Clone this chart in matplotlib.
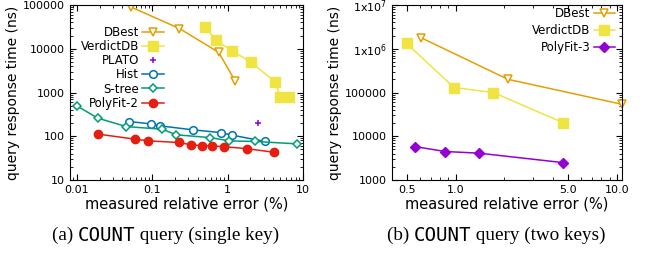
import numpy as np
import matplotlib.pyplot as plt
from matplotlib.ticker import FixedLocator, FixedFormatter, LogLocator, NullFormatter

# (a) single key
dbest_x = [0.053, 0.23, 0.76, 1.26]
dbest_y = [89000, 29000, 8300, 1840]
verdict_x = [0.50, 0.70, 1.14, 2.06, 4.28, 4.99, 6.56]
verdict_y = [32000, 15600, 9060, 4900, 1740, 805, 805]
plato_x = [2.5]
plato_y = [205]
hist_x = [0.049, 0.096, 0.127, 0.347, 0.826, 1.14, 3.16]
hist_y = [217, 192, 173, 140, 121, 106, 76]
stree_x = [0.01, 0.019, 0.0455, 0.135, 0.209, 0.59, 1.06, 2.28, 8.45]
stree_y = [494, 259, 166, 145, 108, 93, 78.5, 76, 67]
pf2_x = [0.019, 0.0586, 0.088, 0.224, 0.327, 0.457, 0.62, 0.885, 1.8, 4.15]
pf2_y = [112, 86, 78.5, 72, 64, 61, 60, 58, 52, 43]

# (b) two keys
dbest2_x = [0.61, 2.11, 10.7]
dbest2_y = [1.79e6, 2.0e5, 54000]
verdict2_x = [0.496, 0.976, 1.71, 4.62]
verdict2_y = [1.33e6, 1.3e5, 1.0e5, 2.06e4]
pf3_x = [0.56, 0.86, 1.39, 4.62]
pf3_y = [5800, 4480, 4110, 2500]

c_dbest = '#e69f00'
c_verdict = '#f0e442'
c_purple = '#9400d3'
c_hist = '#0072b2'
c_stree = '#009e73'
c_red = '#e51e10'

plt.rcParams['font.family'] = 'DejaVu Sans'
plt.rcParams['font.size'] = 8

fig = plt.figure(figsize=(6.57, 2.60), dpi=100)
ax1 = fig.add_axes([0.1065, 0.3077, 0.3546, 0.673])
ax2 = fig.add_axes([0.5967, 0.3077, 0.350, 0.673])

lw = 1.1
ax1.plot(dbest_x, dbest_y, '-v', color=c_dbest, mfc='white', mew=1.1, ms=6, lw=lw, label='DBest')
ax1.plot(verdict_x, verdict_y, '-s', color=c_verdict, ms=6.5, lw=lw, label='VerdictDB')
ax1.plot(plato_x, plato_y, '+', color=c_purple, ms=5, mew=1.1, lw=0, label='PLATO')
ax1.plot(hist_x, hist_y, '-o', color=c_hist, mfc='white', mew=1.1, ms=5.5, lw=lw, label='Hist')
ax1.plot(stree_x, stree_y, '-D', color=c_stree, mfc='white', mew=1.1, ms=4, lw=lw, label='S-tree', clip_on=False)
ax1.plot(pf2_x, pf2_y, '-o', color=c_red, ms=6, lw=lw, label='PolyFit-2')

ax2.plot(dbest2_x, dbest2_y, '-v', color=c_dbest, mfc='white', mew=1.1, ms=6, lw=lw, label='DBest', clip_on=False)
ax2.plot(verdict2_x, verdict2_y, '-s', color=c_verdict, ms=6.5, lw=lw, label='VerdictDB')
ax2.plot(pf3_x, pf3_y, '-D', color=c_purple, ms=5, lw=lw, label='PolyFit-3')

for ax in (ax1, ax2):
    ax.set_xscale('log')
    ax.set_yscale('log')
    ax.tick_params(which='both', direction='in', top=True, right=True, labelsize=8)
    ax.tick_params(which='major', length=4)
    ax.tick_params(which='minor', length=2)
    ax.set_xlabel('measured relative error (%)', fontsize=10.5, labelpad=1)
    ax.set_ylabel('query response time (ns)', fontsize=10, labelpad=2)

ax1.set_xlim(0.0081, 10)
ax1.set_ylim(10, 100000)
ax1.xaxis.set_major_locator(FixedLocator([0.01, 0.1, 1, 10]))
ax1.xaxis.set_major_formatter(FixedFormatter(['0.01', '0.1', '1', '10']))
ax1.yaxis.set_major_locator(FixedLocator([10, 100, 1000, 10000, 100000]))
ax1.yaxis.set_major_formatter(FixedFormatter(['10', '100', '1000', '10000', '100000']))
ax1.yaxis.set_minor_formatter(NullFormatter())
ax1.xaxis.set_minor_formatter(NullFormatter())

ax2.set_xlim(0.403, 10.75)
ax2.set_ylim(1000, 1e7)
ax2.xaxis.set_major_locator(FixedLocator([0.5, 1, 5, 10]))
ax2.xaxis.set_major_formatter(FixedFormatter(['0.5', '1.0', '5.0', '10.0']))
ax2.xaxis.set_minor_locator(LogLocator(subs=np.arange(2, 10)))
ax2.xaxis.set_minor_formatter(NullFormatter())
ax2.yaxis.set_major_locator(FixedLocator([1000, 10000, 100000, 1e6, 1e7]))
ax2.yaxis.set_major_formatter(FixedFormatter(['1000', '10000', '100000', '1x10$^6$', '1x10$^7$']))
ax2.yaxis.set_minor_formatter(NullFormatter())

ax1.legend(loc='upper left', bbox_to_anchor=(0.02, 0.915), markerfirst=False, frameon=False,
           fontsize=8.5, handlelength=1.8, handletextpad=0.3, labelspacing=0.1, borderpad=0)
ax2.legend(loc='upper right', bbox_to_anchor=(0.995, 1.02), markerfirst=False, frameon=False,
           fontsize=8.5, handlelength=1.8, handletextpad=0.3, labelspacing=0.33, borderpad=0)

# captions: serif text with the COUNT keyword in a different face
fig.canvas.draw()
renderer = fig.canvas.get_renderer()
def caption(xc, y, parts):
    texts = []
    for s, fam in parts:
        texts.append(fig.text(0, y, s, family=fam, fontsize=13.8, va='center', ha='left'))
    widths = [t.get_window_extent(renderer).width for t in texts]
    x = xc * fig.bbox.width - sum(widths) / 2
    for t, w in zip(texts, widths):
        t.set_x(x / fig.bbox.width)
        x += w

caption(0.252, 0.095, [('(a) ', 'Liberation Serif'), ('COUNT', 'DejaVu Sans Mono'),
                       (' query (single key)', 'Liberation Serif')])
caption(0.755, 0.095, [('(b) ', 'Liberation Serif'), ('COUNT', 'DejaVu Sans Mono'),
                       (' query (two keys)', 'Liberation Serif')])

fig.savefig('out.png', dpi=100)
